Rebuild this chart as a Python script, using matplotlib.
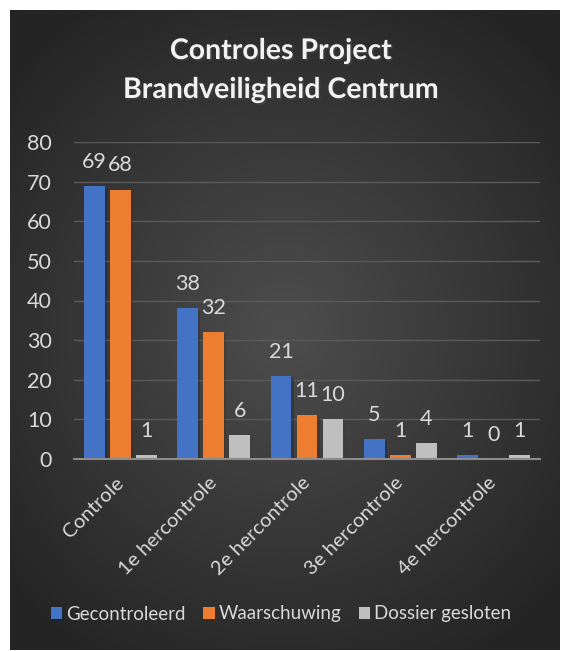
import numpy as np
import matplotlib
matplotlib.use("Agg")
import matplotlib.pyplot as plt
import matplotlib.patheffects as pe

categories = ["Controle", "1e hercontrole", "2e hercontrole", "3e hercontrole", "4e hercontrole"]
gecontroleerd = [69, 38, 21, 5, 1]
waarschuwing = [68, 32, 11, 1, 0]
dossier_gesloten = [1, 6, 10, 4, 1]
series_names = ["Gecontroleerd", "Waarschuwing", "Dossier gesloten"]
colors = ["#4472C4", "#ED7D31", "#BFBFBF"]
yticks = [0, 10, 20, 30, 40, 50, 60, 70, 80]

plt.rcParams['font.family'] = ['Lato', 'DejaVu Sans']
txt_col = "#D9D9D9"

fig = plt.figure(figsize=(5.62, 6.51), dpi=100)
fig.patch.set_facecolor("white")

# dark radial gradient background
bg = fig.add_axes([10/562, 1/651, 550/562, 640/651])
yy, xx = np.mgrid[-1:1:300j, -1:1:300j]
r = np.sqrt(xx**2 + (yy * 1.1)**2)
bg.imshow(r, cmap=matplotlib.colors.LinearSegmentedColormap.from_list("bg", ["#4d4d4d", "#242424"]),
          vmin=0, vmax=1.35, aspect="auto", extent=[0, 1, 0, 1])
bg.set_axis_off()

ax = fig.add_axes([74/562, (651-459)/651, 466/562, 317/651])
ax.set_facecolor("none")

x = np.arange(len(categories))
w = 0.225
step = 0.279
data = [gecontroleerd, waarschuwing, dossier_gesloten]
for i, (vals, name, c) in enumerate(zip(data, series_names, colors)):
    pos = x + (i - 1) * step
    ax.bar(pos, vals, width=w, color=c, label=name, zorder=3,
           path_effects=[pe.SimplePatchShadow(offset=(1.5, -1.5), alpha=0.35), pe.Normal()])
    for p, v in zip(pos, vals):
        ax.annotate(str(v), (p, v), xytext=(0, 13), textcoords="offset points",
                    ha="center", va="baseline", color=txt_col, fontsize=15.5)

ax.set_ylim(0, 80)
ax.set_xlim(-0.5, len(categories) - 0.5)
ax.set_yticks(yticks)
ax.yaxis.grid(True, color="#5a5a5a", linewidth=1, zorder=0)
ax.set_axisbelow(True)
for s in ["top", "right", "left"]:
    ax.spines[s].set_visible(False)
ax.spines["bottom"].set_color("#8c8c8c")
ax.spines["bottom"].set_linewidth(1.5)
ax.spines["bottom"].set_zorder(4)
ax.tick_params(axis="y", length=0, pad=16, labelsize=15.5, labelcolor=txt_col)
ax.tick_params(axis="x", length=0, pad=15, labelsize=14.5, labelcolor=txt_col)
ax.set_xticks(x)
ax.set_xticklabels(categories, rotation=45, ha="right", va="center", rotation_mode="anchor")

fig.text(0.5, 1 - 51/651, "Controles Project", ha="center", va="center", color="#F2F2F2",
         fontsize=20.5, fontweight="bold",
         path_effects=[pe.withSimplePatchShadow(offset=(1.2, -1.2), alpha=0.5)])
fig.text(0.5, 1 - 90/651, "Brandveiligheid Centrum", ha="center", va="center", color="#F2F2F2",
         fontsize=20.5, fontweight="bold",
         path_effects=[pe.withSimplePatchShadow(offset=(1.2, -1.2), alpha=0.5)])

fig.legend(loc="center", bbox_to_anchor=(0.5, 1 - 614/651), ncol=3, frameon=False,
           fontsize=13.5, labelcolor=txt_col, handlelength=0.6, handleheight=0.6,
           handletextpad=0.2, columnspacing=0.95)

fig.savefig("out.png", dpi=100)
